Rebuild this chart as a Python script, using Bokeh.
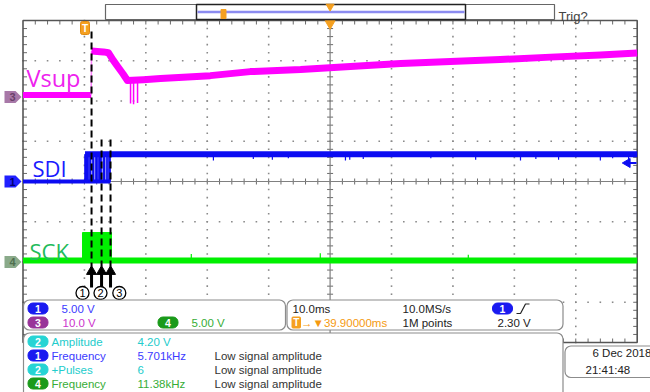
import numpy as np
from bokeh.plotting import figure
from bokeh.models import Range1d, BoxAnnotation, Label
from bokeh.core.properties import value
from bokeh.embed import file_html
from bokeh.resources import INLINE

# ---------------- scope settings ----------------
time_per_div = 10.0          # ms / div
n_hdiv, n_vdiv = 10, 8
trigger_pos = 39.9           # ms from trigger to screen centre
ch1_scale, ch3_scale, ch4_scale = 5.0, 10.0, 5.0   # V / div
ch1_pos, ch3_pos, ch4_pos = 0.0, 2.1, -2.0          # div
trig_level = 2.30            # V on ch1

# ---------------- Vsup (ch3) ----------------
vsup_t = [-10.1, 1.0, 1.06, 2.0, 3.0, 3.8, 4.6, 5.4, 6.2, 6.9, 9.5, 12.3, 20.4,
          26.9, 35.1, 43.2, 51.4, 59.5, 67.6, 75.8, 83.9, 89.9]
vsup_v = [0.5, 0.5, 11.4, 11.3, 11.2, 11.0, 9.1, 7.4, 5.7, 4.1, 4.3, 4.6, 5.3,
          6.3, 6.8, 7.6, 8.3, 8.8, 9.3, 9.9, 10.4, 10.9]
vsup_spike_t = [7.41, 7.9, 8.55]
vsup_spike_v = [-1.6, -1.8, -1.5]

# ---------------- SDI (ch1) ----------------
sdi_t = [-10.1, 0.0, 0.0, 89.9]
sdi_v = [0.0, 0.0, 3.4, 3.4]
sdi_burst_start = [0.0, 0.73, 1.22, 1.71, 2.20, 2.93, 3.50, 3.83]
sdi_burst_end = [0.57, 0.98, 1.47, 2.04, 2.69, 3.26, 3.66, 4.15]
sdi_glitch_t = [20.9, 27.4, 30.5, 33.1, 42.4, 43.1, 45.3, 56.3, 63.6, 70.9,
                73.4, 77.1, 83.9, 85.9, 88.5]
sdi_glitch_v = [2.6, 2.8, 2.7, 2.9, 2.6, 2.7, 2.8, 2.9, 2.7, 2.6, 2.8, 2.7,
                2.6, 2.9, 2.7]

# ---------------- SCK (ch4) ----------------
sck_t = [-10.1, 89.9]
sck_v = [0.2, 0.2]
sck_burst_t = [-0.41, 4.31]
sck_burst_high = 3.66
sck_glitch_t = [17.3, 38.3, 62.4]
sck_glitch_v = [1.0, 1.1, 0.9]

# annotation markers
marker_t = [1.06, 2.69, 4.15]
marker_labels = ["1", "2", "3"]

# measurement read-outs
meas_ch = ["2", "1", "2", "4"]
meas_name = ["Amplitude", "Frequency", "+Pulses", "Frequency"]
meas_val = ["4.20 V", "5.701kHz", "6", "11.38kHz"]
meas_note = ["", "Low signal amplitude", "Low signal amplitude", "Low signal amplitude"]

badge_col = {"1": "#1a1af0", "2": "#26d4d4", "3": "#993399", "4": "#1a9a1a"}
text_col = {"1": "#3b3bff", "2": "#22cccc", "3": "#cc33cc", "4": "#36ad36"}

# ---------------- page geometry ----------------
W, H = 650, 392
PX_MS = 6.142
PX_DIV = 40.25
GRID_LEFT_PX = 22.5
Y0_PX = 181.0
t_left = trigger_pos - n_hdiv / 2 * time_per_div
t_right = t_left + n_hdiv * time_per_div
T0_PX = GRID_LEFT_PX - t_left * PX_MS
half_v = n_vdiv / 2


def X(px):
    return (px - T0_PX) / PX_MS


def Y(py):
    return (Y0_PX - py) / PX_DIV


def DX(px):
    return px / PX_MS


def DY(py):
    return py / PX_DIV


p = figure(width=W, height=H, x_range=Range1d(X(0), X(W)),
           y_range=Range1d(Y(H), Y(0)), output_backend="svg",
           toolbar_location=None, x_axis_type=None, y_axis_type=None,
           min_border=0, outline_line_color=None)
p.background_fill_color = "white"
p.border_fill_color = "white"

# ---------------- graticule ----------------
dx, dy = [], []
for i in range(1, n_hdiv):
    if i == n_hdiv // 2:
        continue
    for k in range(n_vdiv * 5 + 1):
        dx.append(t_left + i * time_per_div)
        dy.append(-half_v + k * 0.2)
for j in range(-int(half_v) + 1, int(half_v)):
    if j == 0:
        continue
    for k in range(n_hdiv * 5 + 1):
        dx.append(t_left + k * time_per_div / 5)
        dy.append(j)
p.scatter(dx, dy, marker="square", size=1.6, fill_color="#8a8a8a", line_color=None)

minor_t = [t_left + k * time_per_div / 5 for k in range(1, n_hdiv * 5)]
minor_v = [-half_v + k * 0.2 for k in range(1, n_vdiv * 5)]
tick_col = "#6a6a6a"
p.segment(minor_t, [half_v] * len(minor_t), minor_t, [half_v - DY(4)] * len(minor_t),
          line_color=tick_col, line_width=1)
p.segment(minor_t, [-half_v] * len(minor_t), minor_t, [-half_v + DY(4)] * len(minor_t),
          line_color=tick_col, line_width=1)
p.segment([t_left] * len(minor_v), minor_v, [t_left + DX(4)] * len(minor_v), minor_v,
          line_color=tick_col, line_width=1)
p.segment([t_right] * len(minor_v), minor_v, [t_right - DX(4)] * len(minor_v), minor_v,
          line_color=tick_col, line_width=1)
p.segment([trigger_pos - DX(3)] * len(minor_v), minor_v,
          [trigger_pos + DX(3)] * len(minor_v), minor_v, line_color=tick_col, line_width=1)
p.segment(minor_t, [-DY(3)] * len(minor_t), minor_t, [DY(3)] * len(minor_t),
          line_color=tick_col, line_width=1)
p.segment([trigger_pos, t_left], [-half_v, 0], [trigger_pos, t_right], [half_v, 0],
          line_color="#808080", line_width=1.2)
p.quad(left=t_left, right=t_right, bottom=-half_v, top=half_v, fill_color=None,
       line_color="#555555", line_width=1.6)

# ---------------- traces ----------------
vs_t = np.array(vsup_t)
vs_y = ch3_pos + np.array(vsup_v) / ch3_scale
MAG = "#ff00ff"
p.line(vs_t[:2], vs_y[:2], line_color=MAG, line_width=6)
p.line(vs_t[1:3], vs_y[1:3], line_color="#ff80ff", line_width=1.5)
p.line(vs_t[2:], vs_y[2:], line_color=MAG, line_width=7, line_join="round")
p.segment(vsup_spike_t, [ch3_pos + 4.3 / ch3_scale] * len(vsup_spike_t), vsup_spike_t,
          list(ch3_pos + np.array(vsup_spike_v) / ch3_scale), line_color=MAG, line_width=1.5)

BLUE = "#0c0cf2"
sd_t = np.array(sdi_t)
sd_y = ch1_pos + np.array(sdi_v) / ch1_scale
p.line(sd_t[:2], sd_y[:2], line_color=BLUE, line_width=4)
p.line([sdi_burst_start[0], sdi_burst_end[-1]], [sd_y[0], sd_y[0]], line_color=BLUE, line_width=4)
p.quad(left=sdi_burst_start, right=sdi_burst_end, bottom=sd_y[0], top=sd_y[-1],
       fill_color=BLUE, line_color=BLUE, line_width=0.8)
p.line(sd_t[1:3], sd_y[1:3], line_color=BLUE, line_width=1.5)
p.line(sd_t[2:], sd_y[2:], line_color=BLUE, line_width=6)
p.segment(sdi_glitch_t, [sd_y[-1]] * len(sdi_glitch_t), sdi_glitch_t,
          list(ch1_pos + np.array(sdi_glitch_v) / ch1_scale), line_color=BLUE, line_width=1.2)

GREEN = "#00f000"
sk_y = ch4_pos + np.array(sck_v) / ch4_scale
p.line(sck_t, sk_y, line_color=GREEN, line_width=6)
p.quad(left=sck_burst_t[0], right=sck_burst_t[1], bottom=sk_y[0],
       top=ch4_pos + sck_burst_high / ch4_scale, fill_color=GREEN, line_color=GREEN)
p.segment(sck_glitch_t, list(sk_y[:1]) * len(sck_glitch_t), sck_glitch_t,
          list(ch4_pos + np.array(sck_glitch_v) / ch4_scale), line_color=GREEN, line_width=1.2)

# ---------------- channel position markers ----------------
def marker_shape(cy):
    pts = [(4, cy - 6), (15, cy - 6), (21, cy), (15, cy + 6), (4, cy + 6)]
    return [X(a) for a, b in pts], [b for a, b in pts]


mk_xs, mk_ys = [], []
for pos in [ch3_pos, ch1_pos, ch4_pos]:
    cy = Y0_PX - pos * PX_DIV
    xs, ys = marker_shape(cy)
    mk_xs.append(xs)
    mk_ys.append([Y(b) for b in ys])
p.patches(mk_xs, mk_ys, fill_color=["#a878a8", "#2020ff", "#8aaa8a"], line_color=None)
p.text([X(12)] * 3, [ch3_pos, ch1_pos, ch4_pos], text=["3", "1", "4"],
       text_font=value("Liberation Sans"), text_font_size="11px", text_font_style="bold",
       text_color=["#6a406a", "#000070", "#4f6f4f"], text_align="center", text_baseline="middle")

# trigger level marker (right)
trig_y = ch1_pos + trig_level / ch1_scale
p.scatter([X(627)], [trig_y], marker="triangle", angle=np.pi / 2, size=9,
          fill_color=BLUE, line_color=BLUE)
p.segment([X(628)], [trig_y], [X(636)], [trig_y], line_color=BLUE, line_width=2)

# orange triangle at screen centre top
p.scatter([trigger_pos], [Y(23)], marker="inverted_triangle", size=10,
          fill_color="#f5a020", line_color="#f5a020")

# ---------------- marker lines / arrows / circles ----------------
p.segment(marker_t, [Y(31), Y(139), Y(139)], marker_t, [Y(266)] * 3,
          line_color="black", line_width=2, line_dash="7 4")
p.segment(marker_t, [Y(287)] * 3, marker_t, [Y(273)] * 3, line_color="black", line_width=3)
p.scatter(marker_t, [Y(271)] * 3, marker="triangle", size=10, fill_color="black", line_color="black")
circ_x = [X(82), X(100), X(118.8)]
p.scatter(circ_x, [Y(292.5)] * 3, marker="circle", size=13, fill_color="white",
          line_color="black", line_width=1.3)
p.text(circ_x, [Y(292.5)] * 3, text=marker_labels, text_font=value("Liberation Sans"),
       text_font_size="11px", text_color="black", text_align="center", text_baseline="middle")

# ---------------- top timeline bar ----------------
p.quad(left=X(105), right=X(554), bottom=Y(19), top=Y(4), fill_color="white",
       line_color="#666666", line_width=1.2)
p.quad(left=X(196), right=X(465), bottom=Y(19), top=Y(4), fill_color=None,
       line_color="#222222", line_width=1.5)
p.segment([X(197)], [Y(11.5)], [X(464)], [Y(11.5)], line_color="#8c8cf0", line_width=2.5)
p.quad(left=X(220.5), right=X(225.5), bottom=Y(18), top=Y(9), fill_color="#f5a020",
       line_color="#f5a020")
p.scatter([trigger_pos], [Y(6)], marker="inverted_triangle", size=8,
          fill_color="#f5a020", line_color="#f5a020")

# ---------------- big channel labels ----------------
p.add_layout(Label(x=X(26), y=Y(77), text="Vsup", text_font="Open Sans",
                   text_font_size="23.5px", text_color="#ee22ee", text_baseline="alphabetic"))
p.add_layout(Label(x=X(32), y=Y(167), text="SDI", text_font="Open Sans",
                   text_font_size="22px", text_color="#1a1aff", text_baseline="alphabetic"))
p.add_layout(Label(x=X(29), y=Y(250), text="SCK", text_font="Open Sans",
                   text_font_size="22px", text_color="#22bb5a", text_baseline="alphabetic"))
p.add_layout(Label(x=X(558), y=Y(16), text="Trig?", text_font="Liberation Sans",
                   text_font_size="13px", text_color="#444444", text_baseline="alphabetic"))

# trigger "T" flag
p.add_layout(BoxAnnotation(left=X(80), right=X(89), top=Y(21), bottom=Y(34),
                           fill_color="#f5a020", fill_alpha=1, line_color="#e08a10",
                           line_alpha=1, line_width=1, border_radius=2))
p.add_layout(Label(x=X(84.5), y=Y(27.5), text="T", text_font="Liberation Sans",
                   text_font_size="10px", text_font_style="bold", text_color="white",
                   text_align="center", text_baseline="middle"))


# ---------------- read-out panels ----------------
def panel(l, r, t, b):
    p.add_layout(BoxAnnotation(left=X(l), right=X(r), top=Y(t), bottom=Y(b),
                               fill_color="white", fill_alpha=1, line_color="#8c8c8c",
                               line_alpha=1, line_width=1.2, border_radius=6))


def badge(cx, cy, txt, color):
    p.add_layout(BoxAnnotation(left=X(cx - 10), right=X(cx + 10), top=Y(cy - 5.5),
                               bottom=Y(cy + 5.5), fill_color=color, fill_alpha=1,
                               line_color=color, line_alpha=1, border_radius=5))
    p.add_layout(Label(x=X(cx), y=Y(cy), text=txt, text_font="Liberation Sans",
                       text_font_size="10.5px", text_font_style="bold", text_color="white",
                       text_align="center", text_baseline="middle"))


def lab(px, py, txt, color, size="11.5px", align="left"):
    p.add_layout(Label(x=X(px), y=Y(py), text=txt, text_font="Liberation Sans",
                       text_font_size=size, text_color=color, text_align=align,
                       text_baseline="middle"))


panel(23, 285, 299.5, 329.5)
panel(286.5, 562.5, 299.5, 329.5)
panel(23, 562.5, 332.5, 405)
panel(564.5, 665, 345.5, 377)

# panel 1: vertical scales
badge(37.5, 308, "1", badge_col["1"])
lab(61, 308, "%.2f V" % ch1_scale, text_col["1"])
badge(37.5, 322, "3", badge_col["3"])
lab(62, 322, "%.1f V" % ch3_scale, text_col["3"])
badge(167.5, 322, "4", badge_col["4"])
lab(191, 322, "%.2f V" % ch4_scale, text_col["4"])

# panel 2: timebase / trigger
lab(292, 308, "%.1fms" % time_per_div, "#222222")
lab(402, 308, "10.0MS/s", "#222222")
badge(502, 308, "1", badge_col["1"])
p.line([X(516), X(520), X(525), X(529)], [Y(313), Y(313), Y(303.5), Y(303.5)],
       line_color="#222222", line_width=1.2, level="overlay")
p.add_layout(BoxAnnotation(left=X(291.5), right=X(300), top=Y(316.5), bottom=Y(327.5),
                           fill_color="#f5a020", fill_alpha=1, line_color="#f5a020",
                           line_alpha=1, border_radius=1))
p.add_layout(Label(x=X(295.8), y=Y(322), text="T", text_font="Liberation Sans",
                   text_font_size="10px", text_font_style="bold", text_color="white",
                   text_align="center", text_baseline="middle"))
lab(300.5, 322, "\u2192\u25bc%.5fms" % trigger_pos, "#f59a10")
lab(402, 322, "1M points", "#222222")
lab(497, 322, "%.2f V" % trig_level, "#222222")

# panel 3: measurements
row_y = [341, 355, 369, 383]
for ry, ch, nm, vv, nt in zip(row_y, meas_ch, meas_name, meas_val, meas_note):
    badge(37.5, ry, ch, badge_col[ch])
    lab(51, ry, nm, text_col[ch])
    lab(137, ry, vv, text_col[ch])
    if nt:
        lab(214, ry, nt, "#333333")

# date panel
lab(592, 352, "6 Dec  2018", "#222222")
lab(585, 369, "21:41:48", "#222222")

open("out.html", "w").write(file_html(p, INLINE))
